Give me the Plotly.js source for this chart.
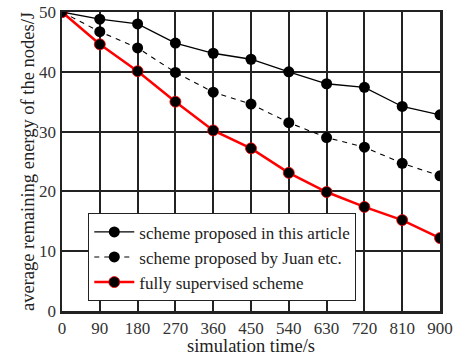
<!DOCTYPE html>
<html><head><meta charset="utf-8">
<script src="https://cdn.plot.ly/plotly-3.0.1.min.js"></script>
<style>html,body{margin:0;padding:0;background:#fff}</style>
</head><body><div id="chart" style="width:467px;height:356px"></div>
<script>
var times = [0, 90, 180, 270, 360, 450, 540, 630, 720, 810, 900];
var tickLabels = ["0","90","180","270","360","450","540","630","720","810","900"];
var proposedThis = [50, 48.8, 48.0, 44.8, 43.1, 42.1, 40.0, 38.0, 37.4, 34.2, 32.8];
var proposedJuan = [50, 46.7, 44.0, 39.9, 36.6, 34.6, 31.5, 29.0, 27.4, 24.7, 22.6];
var fullySupervised = [50, 44.6, 40.1, 35.0, 30.2, 27.2, 23.1, 19.9, 17.4, 15.2, 12.2];
var names = ["scheme proposed in this article", "scheme proposed by Juan etc.", "fully supervised scheme"];

var fam = "Liberation Serif, Times New Roman, serif";
var tickFont = {family: fam, color: "#333", size: 17};
var titleFont = {family: fam, color: "#222", size: 18.5};
var traces = [
  {x: times, y: proposedThis, name: names[0], mode: "lines+markers",
   line: {color: "#000", width: 1.3}, marker: {color: "#000", size: 11}},
  {x: times, y: proposedJuan, name: names[1], mode: "lines+markers",
   line: {color: "#000", width: 1.1, dash: "5px,5px"}, marker: {color: "#000", size: 11}},
  {x: times, y: fullySupervised, name: names[2], mode: "lines+markers",
   line: {color: "#ff0000", width: 2.5}, marker: {color: "#000", size: 11, line: {color: "#ff0000", width: 0.8}}}
];
var layout = {
  width: 467, height: 356,
  margin: {l: 62, r: 27, t: 12, b: 45},
  paper_bgcolor: "#fff", plot_bgcolor: "#fff",
  font: tickFont,
  showlegend: true,
  legend: {x: 0.069, y: 0.033, xanchor: "left", yanchor: "bottom",
    bgcolor: "#fff", bordercolor: "#222", borderwidth: 1.2,
    font: {family: fam, size: 17, color: "#222"},
    tracegroupgap: 0, itemwidth: 40},
  xaxis: {range: [0, 900], tickvals: times, ticktext: tickLabels,
    showgrid: true, gridcolor: "#222", gridwidth: 2,
    showline: true, linecolor: "#222", linewidth: 2.5, mirror: true,
    ticks: "", zeroline: false, tickfont: tickFont,
    title: {text: "simulation time/s", font: titleFont, standoff: 0}},
  yaxis: {range: [0, 50], tickvals: [0, 10, 20, 30, 40, 50],
    showgrid: true, gridcolor: "#222", gridwidth: 2,
    showline: true, linecolor: "#222", linewidth: 2.5, mirror: true,
    ticks: "", zeroline: false, tickfont: tickFont, automargin: false,
    title: {text: "average remaining energy of the nodes/J", font: titleFont, standoff: 0}}
};
Plotly.newPlot("chart", traces, layout, {displayModeBar: false, staticPlot: true});
</script></body></html>
